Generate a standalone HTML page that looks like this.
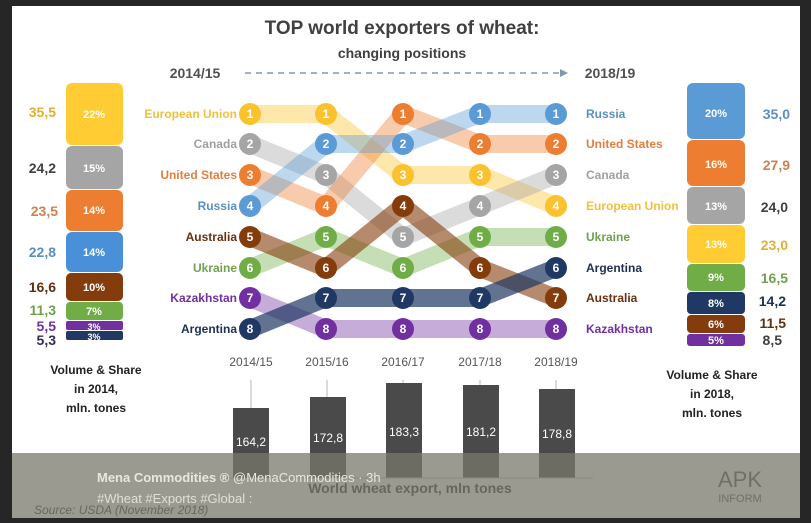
<!DOCTYPE html><html><head><style>
body{margin:0;width:811px;height:518px;background:#262626;overflow:hidden;font-family:"Liberation Sans",sans-serif}
</style></head><body>
<svg width="811" height="518" xmlns="http://www.w3.org/2000/svg" font-family="Liberation Sans, sans-serif">
<rect x="12" y="6" width="788" height="512" fill="#fff"/>
<text x="402" y="34" text-anchor="middle" font-size="19" font-weight="bold" fill="#404040">TOP world exporters of wheat:</text>
<text x="402" y="58" text-anchor="middle" font-size="14" font-weight="bold" fill="#404040">changing positions</text>
<text x="195" y="78" text-anchor="middle" font-size="14" font-weight="bold" fill="#505050">2014/15</text>
<text x="610" y="78" text-anchor="middle" font-size="14" font-weight="bold" fill="#505050">2018/19</text>
<line x1="245" y1="73" x2="560" y2="73" stroke="#7f99b0" stroke-width="1.5" stroke-dasharray="6,5"/>
<polygon points="560,69 568,73 560,77" fill="#7f99b0"/>
<g id="lines" stroke-width="18" fill="none" stroke-opacity="0.4" stroke-linejoin="round">
<polyline stroke="#f9c22e" points="250,114 326,114 403,175 480,175 556,206"/>
<polyline stroke="#a5a5a5" points="250,144 326,175 403,237 480,206 556,175"/>
<polyline stroke="#ed7d31" points="250,175 326,206 403,114 480,144 556,144"/>
<polyline stroke="#5b9bd5" points="250,206 326,144 403,144 480,114 556,114"/>
<polyline stroke="#70ad47" points="250,268 326,237 403,268 480,237 556,237"/>
<polyline stroke="#843c0c" stroke-opacity="0.6" points="250,237 326,268 403,206 480,268 556,298"/>
<polyline stroke="#7030a0" points="250,298 326,329 403,329 480,329 556,329"/>
<polyline stroke="#1f3864" stroke-opacity="0.7" points="250,329 326,298 403,298 480,298 556,268"/>
</g>
<g font-size="12" font-weight="bold" fill="#fff" text-anchor="middle">
<!-- circles -->
<g id="c"></g>
</g>
<g font-size="12" font-weight="bold" text-anchor="end">
<text x="237" y="118" fill="#f0c040">European Union</text>
<text x="237" y="148" fill="#a0a0a0">Canada</text>
<text x="237" y="179" fill="#e08040">United States</text>
<text x="237" y="210" fill="#5b8fc0">Russia</text>
<text x="237" y="241" fill="#6a3010">Australia</text>
<text x="237" y="272" fill="#70a050">Ukraine</text>
<text x="237" y="302" fill="#7030a0">Kazakhstan</text>
<text x="237" y="333" fill="#1f3050">Argentina</text>
</g>
<g font-size="12" font-weight="bold">
<text x="586" y="118" fill="#5b8fc0">Russia</text>
<text x="586" y="148" fill="#e08040">United States</text>
<text x="586" y="179" fill="#a0a0a0">Canada</text>
<text x="586" y="210" fill="#f0c040">European Union</text>
<text x="586" y="241" fill="#70a050">Ukraine</text>
<text x="586" y="272" fill="#1f3050">Argentina</text>
<text x="586" y="302" fill="#6a3010">Australia</text>
<text x="586" y="333" fill="#7030a0">Kazakhstan</text>
</g>
<!-- circles -->
<g font-size="12" font-weight="bold" fill="#fff" text-anchor="middle">
<circle cx="250" cy="114" r="11" fill="#f9c22e"/><text x="250" y="118">1</text>
<circle cx="250" cy="144" r="11" fill="#a5a5a5"/><text x="250" y="148">2</text>
<circle cx="250" cy="175" r="11" fill="#ed7d31"/><text x="250" y="179">3</text>
<circle cx="250" cy="206" r="11" fill="#5b9bd5"/><text x="250" y="210">4</text>
<circle cx="250" cy="237" r="11" fill="#843c0c"/><text x="250" y="241">5</text>
<circle cx="250" cy="268" r="11" fill="#70ad47"/><text x="250" y="272">6</text>
<circle cx="250" cy="298" r="11" fill="#7030a0"/><text x="250" y="302">7</text>
<circle cx="250" cy="329" r="11" fill="#1f3864"/><text x="250" y="333">8</text>

<circle cx="326" cy="114" r="11" fill="#f9c22e"/><text x="326" y="118">1</text>
<circle cx="326" cy="144" r="11" fill="#5b9bd5"/><text x="326" y="148">2</text>
<circle cx="326" cy="175" r="11" fill="#a5a5a5"/><text x="326" y="179">3</text>
<circle cx="326" cy="206" r="11" fill="#ed7d31"/><text x="326" y="210">4</text>
<circle cx="326" cy="237" r="11" fill="#70ad47"/><text x="326" y="241">5</text>
<circle cx="326" cy="268" r="11" fill="#843c0c"/><text x="326" y="272">6</text>
<circle cx="326" cy="298" r="11" fill="#1f3864"/><text x="326" y="302">7</text>
<circle cx="326" cy="329" r="11" fill="#7030a0"/><text x="326" y="333">8</text>

<circle cx="403" cy="114" r="11" fill="#ed7d31"/><text x="403" y="118">1</text>
<circle cx="403" cy="144" r="11" fill="#5b9bd5"/><text x="403" y="148">2</text>
<circle cx="403" cy="175" r="11" fill="#f9c22e"/><text x="403" y="179">3</text>
<circle cx="403" cy="206" r="11" fill="#843c0c"/><text x="403" y="210">4</text>
<circle cx="403" cy="237" r="11" fill="#a5a5a5"/><text x="403" y="241">5</text>
<circle cx="403" cy="268" r="11" fill="#70ad47"/><text x="403" y="272">6</text>
<circle cx="403" cy="298" r="11" fill="#1f3864"/><text x="403" y="302">7</text>
<circle cx="403" cy="329" r="11" fill="#7030a0"/><text x="403" y="333">8</text>

<circle cx="480" cy="114" r="11" fill="#5b9bd5"/><text x="480" y="118">1</text>
<circle cx="480" cy="144" r="11" fill="#ed7d31"/><text x="480" y="148">2</text>
<circle cx="480" cy="175" r="11" fill="#f9c22e"/><text x="480" y="179">3</text>
<circle cx="480" cy="206" r="11" fill="#a5a5a5"/><text x="480" y="210">4</text>
<circle cx="480" cy="237" r="11" fill="#70ad47"/><text x="480" y="241">5</text>
<circle cx="480" cy="268" r="11" fill="#843c0c"/><text x="480" y="272">6</text>
<circle cx="480" cy="298" r="11" fill="#1f3864"/><text x="480" y="302">7</text>
<circle cx="480" cy="329" r="11" fill="#7030a0"/><text x="480" y="333">8</text>

<circle cx="556" cy="114" r="11" fill="#5b9bd5"/><text x="556" y="118">1</text>
<circle cx="556" cy="144" r="11" fill="#ed7d31"/><text x="556" y="148">2</text>
<circle cx="556" cy="175" r="11" fill="#a5a5a5"/><text x="556" y="179">3</text>
<circle cx="556" cy="206" r="11" fill="#f9c22e"/><text x="556" y="210">4</text>
<circle cx="556" cy="237" r="11" fill="#70ad47"/><text x="556" y="241">5</text>
<circle cx="556" cy="268" r="11" fill="#1f3864"/><text x="556" y="272">6</text>
<circle cx="556" cy="298" r="11" fill="#843c0c"/><text x="556" y="302">7</text>
<circle cx="556" cy="329" r="11" fill="#7030a0"/><text x="556" y="333">8</text>
</g>
<!-- left stack -->
<g font-size="11" font-weight="bold" fill="#fff" text-anchor="middle">
<rect x="66" y="83" width="57" height="62" rx="6" fill="#ffcc33"/><text x="94" y="118">22%</text>
<rect x="66" y="146" width="57" height="43" rx="6" fill="#a5a5a5"/><text x="94" y="172">15%</text>
<rect x="66" y="190" width="57" height="41" rx="6" fill="#ed7d31"/><text x="94" y="214">14%</text>
<rect x="66" y="232" width="57" height="40" rx="6" fill="#4a90d9"/><text x="94" y="256">14%</text>
<rect x="66" y="273" width="57" height="28" rx="5" fill="#843c0c"/><text x="94" y="291">10%</text>
<rect x="66" y="302" width="57" height="18" rx="4" fill="#70ad47"/><text x="94" y="315">7%</text>
<rect x="66" y="321" width="57" height="9" rx="2" fill="#7030a0"/><text x="94" y="330" font-size="9">3%</text>
<rect x="66" y="331" width="57" height="9" rx="2" fill="#1f3864"/><text x="94" y="340" font-size="9">3%</text>

<rect x="687" y="83" width="58" height="56" rx="6" fill="#5b9bd5"/><text x="716" y="117">20%</text>
<rect x="687" y="140" width="58" height="46" rx="6" fill="#ed7d31"/><text x="716" y="168">16%</text>
<rect x="687" y="187" width="58" height="37" rx="6" fill="#a5a5a5"/><text x="716" y="210">13%</text>
<rect x="687" y="225" width="58" height="38" rx="6" fill="#ffcc33"/><text x="716" y="248">13%</text>
<rect x="687" y="264" width="58" height="27" rx="5" fill="#70ad47"/><text x="716" y="281">9%</text>
<rect x="687" y="292" width="58" height="22" rx="4" fill="#1f3864"/><text x="716" y="307">8%</text>
<rect x="687" y="315" width="58" height="18" rx="4" fill="#843c0c"/><text x="716" y="328">6%</text>
<rect x="687" y="334" width="58" height="12" rx="3" fill="#7030a0"/><text x="716" y="344">5%</text>
</g>
<g font-size="14" font-weight="bold" text-anchor="end">
<text x="56" y="117" fill="#e0b030">35,5</text>
<text x="56" y="173" fill="#404040">24,2</text>
<text x="58" y="216" fill="#d08050">23,5</text>
<text x="56" y="257" fill="#5b8fc0">22,8</text>
<text x="56" y="292" fill="#603010">16,6</text>
<text x="56" y="315" fill="#70a050">11,3</text>
<text x="56" y="331" fill="#7030a0">5,5</text>
<text x="56" y="345" fill="#303050">5,3</text>
</g>
<g font-size="14" font-weight="bold" text-anchor="end">
<text x="790" y="119" fill="#5b8fc0">35,0</text>
<text x="790" y="170" fill="#d08050">27,9</text>
<text x="788" y="212" fill="#404040">24,0</text>
<text x="788" y="250" fill="#e0b030">23,0</text>
<text x="788" y="283" fill="#70a050">16,5</text>
<text x="786" y="306" fill="#1f3050">14,2</text>
<text x="786" y="328" fill="#603010">11,5</text>
<text x="782" y="345" fill="#404040">8,5</text>
</g>
<g font-size="12" font-weight="bold" fill="#222" text-anchor="middle">
<text x="96" y="374">Volume &amp; Share</text><text x="96" y="393">in 2014,</text><text x="96" y="412">mln. tones</text>
<text x="712" y="379">Volume &amp; Share</text><text x="712" y="398">in 2018,</text><text x="712" y="417">mln. tones</text>
</g>
<!-- bars -->
<g font-size="12" fill="#555" text-anchor="middle">
<text x="251" y="366">2014/15</text><text x="327" y="366">2015/16</text><text x="403" y="366">2016/17</text><text x="480" y="366">2017/18</text><text x="556" y="366">2018/19</text>
</g>
<g stroke="#999" stroke-width="0.7"><line x1="251" y1="380" x2="251" y2="408"/><line x1="327" y1="380" x2="327" y2="397"/><line x1="403" y1="380" x2="403" y2="383"/><line x1="480" y1="380" x2="480" y2="385"/><line x1="556" y1="380" x2="556" y2="389"/></g>
<g fill="#4a4a4a">
<rect x="233" y="408" width="36" height="70"/><rect x="310" y="397" width="36" height="81"/><rect x="386" y="383" width="36" height="95"/><rect x="463" y="385" width="36" height="93"/><rect x="539" y="389" width="36" height="89"/>
</g>
<g font-size="12" fill="#fff" text-anchor="middle">
<text x="251" y="446">164,2</text><text x="328" y="442">172,8</text><text x="404" y="436">183,3</text><text x="481" y="436">181,2</text><text x="557" y="438">178,8</text>
</g>
<line x1="225" y1="478" x2="593" y2="478" stroke="#bbb"/>
<text x="410" y="493" font-size="14" font-weight="bold" fill="#333" text-anchor="middle">World wheat export, mln tones</text>
<text x="34" y="514" font-size="12" font-style="italic" fill="#333">Source: USDA (November 2018)</text>
<text x="740" y="487" font-size="22" fill="#555" text-anchor="middle">APK</text>
<text x="740" y="502" font-size="11" fill="#555" text-anchor="middle">INFORM</text>
<rect x="12" y="453" width="788" height="65" fill="#7a786c" fill-opacity="0.75"/>
<text x="97" y="482" font-size="13" font-weight="bold" fill="#e8e8e0">Mena Commodities ® <tspan font-weight="normal">@MenaCommodities · 3h</tspan></text>
<text x="97" y="503" font-size="13" fill="#e0e0d8">#Wheat #Exports #Global :</text>
</svg>
</body></html>
